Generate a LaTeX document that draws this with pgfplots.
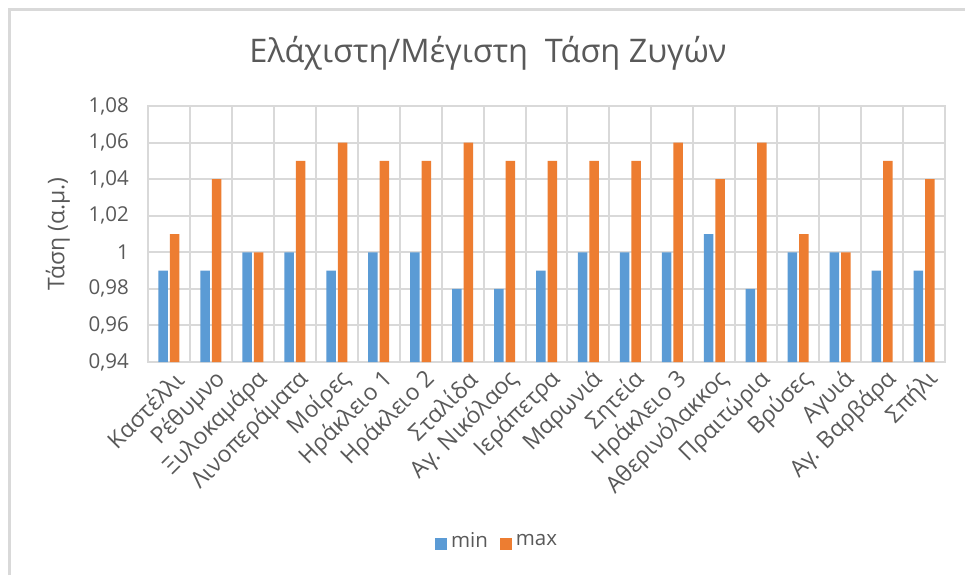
\documentclass[border=0pt]{standalone}
\usepackage{pgfplots}
\pgfplotsset{compat=1.18}
\usepackage{fontspec}
\setmainfont{Open Sans}
\definecolor{cblue}{HTML}{5B9BD5}
\definecolor{corange}{HTML}{ED7D31}
\definecolor{gridc}{HTML}{D9D9D9}
\definecolor{txt}{HTML}{595959}
\begin{document}
\begin{tikzpicture}
\useasboundingbox (0,0) rectangle (965pt,-575pt);
\fill[white] (0,0) rectangle (965pt,-575pt);
\draw[gridc, line width=3pt] (9.5pt,-575pt) -- (9.5pt,-9.5pt) -- (965pt,-9.5pt);
\node[text=txt, font=\fontsize{32.5}{39}\selectfont] at (488pt,-53pt) {Ελάχιστη/Μέγιστη\ \ Τάση Ζυγών};
\begin{axis}[
  at={(148pt,-362pt)}, anchor=south west,
  width=797pt, height=256pt, scale only axis,
  xmin=-0.5, xmax=18.5, ymin=0.94, ymax=1.08,
  enlargelimits=false,
  ytick={0.94,0.96,0.98,1,1.02,1.04,1.06,1.08},
  yticklabels={{0,94},{0,96},{0,98},{1},{1,02},{1,04},{1,06},{1,08}},
  xtick={0,1,2,3,4,5,6,7,8,9,10,11,12,13,14,15,16,17,18},
  xticklabels={Καστέλλι,Ρέθυμνο,Ξυλοκαμάρα,Λινοπεράματα,Μοίρες,Ηράκλειο 1,Ηράκλειο 2,Σταλίδα,Αγ. Νικόλαος,Ιεράπετρα,Μαρωνιά,Σητεία,Ηράκλειο 3,Αθερινόλακκος,Πραιτώρια,Βρύσες,Αγυιά,Αγ. Βαρβάρα,Σπήλι},
  minor xtick={-0.5,0.5,1.5,2.5,3.5,4.5,5.5,6.5,7.5,8.5,9.5,10.5,11.5,12.5,13.5,14.5,15.5,16.5,17.5,18.5},
  xminorgrids, ymajorgrids,
  grid style={gridc, line width=2pt},
  minor grid style={gridc, line width=2pt},
  axis line style={gridc, line width=2pt},
  major tick length=0pt, minor tick length=0pt,
  tick style={draw=none},
  yticklabel style={font=\fontsize{20.5}{25}\selectfont, text=txt, inner sep=2pt, xshift=-17pt},
  xticklabel style={font=\fontsize{23}{28}\selectfont, text=txt, inner sep=2pt, rotate=45, anchor=east, yshift=-17pt, xshift=0pt},
  ylabel={Τάση (α.μ.)},
  every axis y label/.style={at={(axis description cs:-0.113,0.5)}, rotate=90, anchor=center, font=\fontsize{23}{28}\selectfont, text=txt},
  ybar, bar width=9.5pt,
  legend style={at={(0.438,-0.699)}, anchor=center, draw=none, fill=none, legend columns=2,
    font=\fontsize{20.5}{25}\selectfont, text=txt,
    /tikz/every odd column/.append style={column sep=2pt},
    /tikz/every even column/.append style={column sep=10pt}},
  legend image code/.code={\fill[#1] (0pt,-9pt) rectangle (12pt,3pt);},
]
\addplot[fill=cblue, draw=none, bar shift=-5.75pt] coordinates {
(0,0.99) (1,0.99) (2,1.00) (3,1.00) (4,0.99) (5,1.00) (6,1.00) (7,0.98) (8,0.98) (9,0.99)
(10,1.00) (11,1.00) (12,1.00) (13,1.01) (14,0.98) (15,1.00) (16,1.00) (17,0.99) (18,0.99)};
\addplot[fill=corange, draw=none, bar shift=5.75pt] coordinates {
(0,1.01) (1,1.04) (2,1.00) (3,1.05) (4,1.06) (5,1.05) (6,1.05) (7,1.06) (8,1.05) (9,1.05)
(10,1.05) (11,1.05) (12,1.06) (13,1.04) (14,1.06) (15,1.01) (16,1.00) (17,1.05) (18,1.04)};
\legend{min,max}
\end{axis}
\end{tikzpicture}
\end{document}
